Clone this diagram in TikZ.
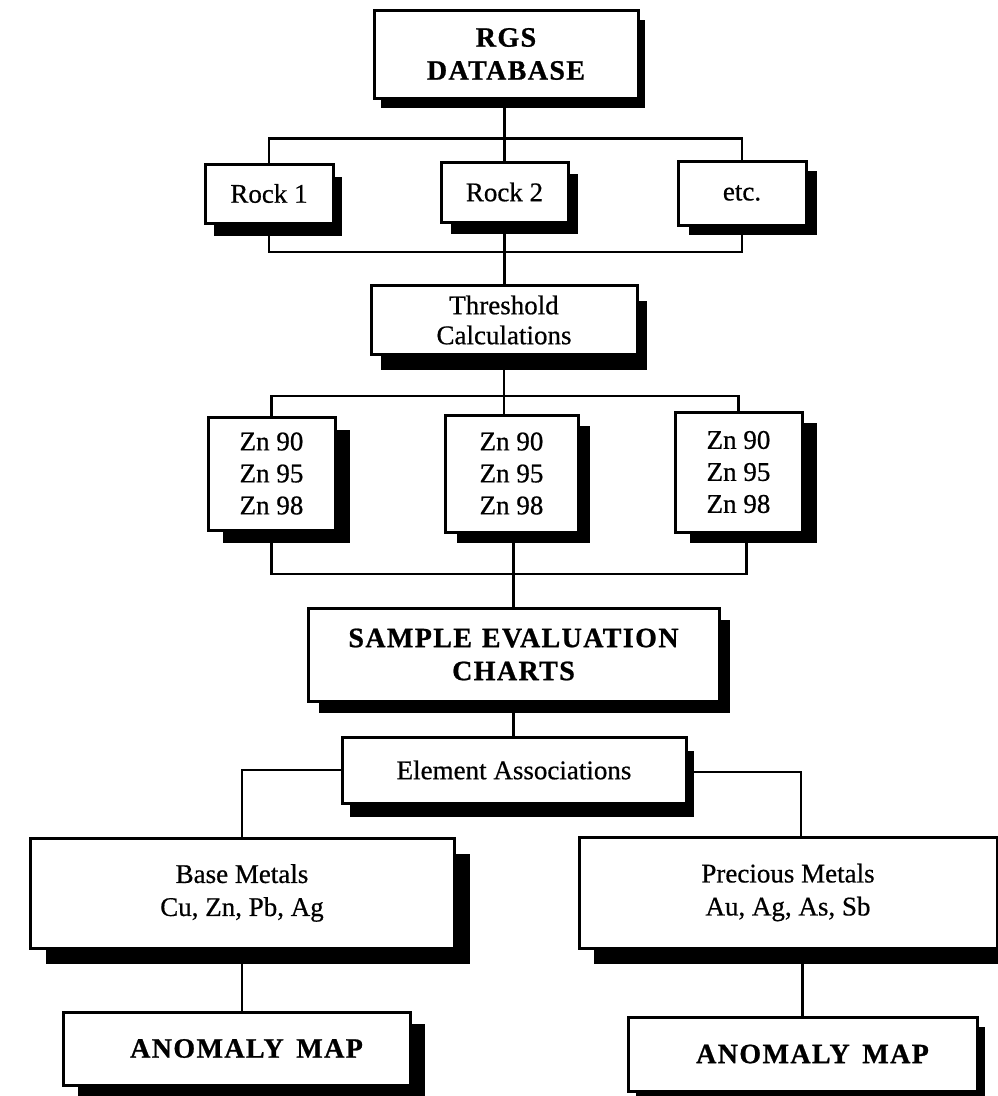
\documentclass[tikz,border=0pt]{standalone}
\usepackage{fontspec}
\setmainfont{Liberation Serif}[FakeBold=0.6]
\newfontfamily\hdfont{Liberation Serif}[LetterSpace=5,FakeBold=0.8]
\usetikzlibrary{shadows,calc}
\begin{document}
\begin{tikzpicture}[x=1pt,y=-1pt,line width=2.6pt,
  box/.style={draw,line width=3pt,fill=white,inner sep=0pt,align=center,
    font=\fontsize{27}{32}\selectfont},
  hd/.style={font=\hdfont\bfseries\fontsize{28}{33}\selectfont},
  sh/.style 2 args={drop shadow={shadow xshift=#1pt,shadow yshift=-#2pt,opacity=1,fill=black}},
  wh/.style 2 args={minimum width=#1pt,minimum height=#2pt}]
\useasboundingbox (0,0) rectangle (998,1096);

% boxes
\node[box,hd,sh={7}{10},wh={264}{88}] (rgs) at (506,54) {RGS\\DATABASE};
\node[box,sh={9}{13},wh={128}{59}] (r1) at (269,193.5) {Rock 1};
\node[box,sh={10}{12},wh={127}{60}] (r2) at (504.5,192) {Rock 2};
\node[box,sh={11}{10},wh={128}{64}] (etc) at (742,193) {etc.};
\node[box,sh={10}{15},wh={266}{69},font=\fontsize{27}{30}\selectfont] (thr) at (504,320) {Threshold\\Calculations};
\node[box,sh={15}{13},wh={127}{113}] (z1) at (271.5,473.5) {Zn 90\\Zn 95\\Zn 98};
\node[box,sh={12}{11},wh={133}{117}] (z2) at (511.5,473.5) {Zn 90\\Zn 95\\Zn 98};
\node[box,sh={15}{11},wh={127}{120}] (z3) at (738.5,472) {Zn 90\\Zn 95\\Zn 98};
\node[box,hd,sh={11}{12},wh={411}{93}] (sample) at (513.5,654.5) {SAMPLE\hspace{0.35em}EVALUATION\\CHARTS};
\node[box,sh={8}{14},wh={344}{66}] (elem) at (514,770) {Element Associations};
\node[box,sh={16}{16},wh={424}{110},font=\fontsize{27}{33}\selectfont] (base) at (242,893) {Base Metals\\Cu, Zn, Pb, Ag};
\node[box,sh={15}{16},wh={418}{111},font=\fontsize{27}{33}\selectfont] (prec) at (788,892.5) {Precious Metals\\Au, Ag, As, Sb};
\node[box,hd,sh={15}{12},wh={347}{73}] (an1) at (236.5,1048.5) {\hspace*{20pt}ANOMALY\hspace{0.45em}MAP};
\node[box,hd,sh={8}{10},wh={349}{74}] (an2) at (802.5,1054) {\hspace*{20pt}ANOMALY\hspace{0.45em}MAP};

% bus levels
\coordinate (b1) at (0,252);
\coordinate (b2) at (0,396);
\coordinate (b3) at (0,574);

% connectors
\draw (r2.north |- rgs.south) -- (r2.north);
\draw (r1.north) -- ++(0,-24) -| (etc.north);
\draw (r1.south) -- (r1.south |- b1) -- (etc.south |- b1) -- (etc.south);
\draw (r2.south) -- (r2.south |- thr.north);
\draw (thr.south) -- (thr.south |- z2.north);
\draw (z1.north) -- (z1.north |- b2) -- (z3.north |- b2) -- (z3.north);
\draw (z1.south) -- (z1.south |- b3) -- ($(z3.south |- b3)+(8,0)$) -- ($(z3.south)+(8,0)$);
\draw (z2.south -| sample.north) -- (sample.north);
\draw (sample.south) -- (sample.south |- elem.north);
\draw (elem.west) -| (base.north);
\draw ($(elem.east)+(0,2)$) -| ($(prec.north)+(13,0)$);
\draw (base.south) -- (base.south |- an1.north);
\draw (an2.north |- prec.south) -- (an2.north);
\end{tikzpicture}
\end{document}
